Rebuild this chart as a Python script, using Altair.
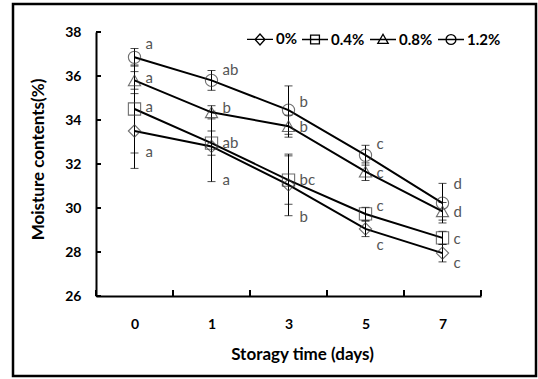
import json
import altair as alt
import pandas as pd

# ---- data ----
days = ["0", "1", "3", "5", "7"]
series = ["0%", "0.4%", "0.8%", "1.2%"]

m_0 = [33.5, 32.8, 31.05, 29.05, 27.95]
m_04 = [34.5, 32.95, 31.27, 29.73, 28.64]
m_08 = [35.8, 34.35, 33.72, 31.65, 29.85]
m_12 = [36.85, 35.8, 34.45, 32.4, 30.22]

e_0 = [1.7, 1.6, 1.4, 0.35, 0.4]
e_04 = [2.0, 0.55, 1.1, 0.3, 0.3]
e_08 = [0.4, 0.3, 0.5, 0.4, 0.4]
e_12 = [0.4, 0.45, 1.1, 0.45, 0.9]

l_0 = ["a", "a", "b", "c", "c"]
l_04 = ["a", "ab", "bc", "c", "c"]
l_08 = ["a", "b", "b", "c", "d"]
l_12 = ["a", "ab", "b", "c", "d"]

ly_0 = [32.55, 31.27, 29.6, 28.3, 27.5]
ly_04 = [34.6, 32.95, 31.27, 30.1, 28.6]
ly_08 = [35.9, 34.55, 33.7, 31.6, 29.8]
ly_12 = [37.45, 36.27, 34.8, 32.9, 31.1]

y_ticks = [26, 28, 30, 32, 34, 36, 38]

means = [m_0, m_04, m_08, m_12]
errs = [e_0, e_04, e_08, e_12]
letters = [l_0, l_04, l_08, l_12]
label_ys = [ly_0, ly_04, ly_08, ly_12]

rows = []
for s, m, e, l, ly in zip(series, means, errs, letters, label_ys):
    for i, d in enumerate(days):
        rows.append({"series": s, "day": d, "pos": i + 0.5, "value": m[i],
                     "lo": m[i] - e[i], "hi": m[i] + e[i],
                     "letter": l[i], "label_y": ly[i]})
df = pd.DataFrame(rows)

W, H = 385, 264
FONT = "Lato"

label_list = json.dumps(days + [""])
x_scale = alt.Scale(domain=[0, len(days)], nice=False, zero=False)
y_scale = alt.Scale(domain=[26, 38], nice=False, zero=False)


def xchan(field):
    return alt.X(f"{field}:Q", scale=x_scale, title="Storagy  time (days)",
                 axis=alt.Axis(values=list(range(len(days) + 1)),
                               labelExpr=f"{label_list}[datum.value]",
                               labelOffset=W / len(days) / 2, labelFlush=False,
                               labelOverlap=False, labelPadding=21,
                               titlePadding=15, titleX=206))


def ychan(field):
    return alt.Y(f"{field}:Q", scale=y_scale, title="Moisture contents(%)",
                 axis=alt.Axis(values=y_ticks, labelPadding=15, titlePadding=17,
                               titleY=127))


base = alt.Chart(df)

lines = base.mark_line(color="black", strokeWidth=2).encode(
    x=xchan("pos"), y=ychan("value"), detail="series:N")

bars = base.mark_rule(color="black", strokeWidth=1).encode(
    x=xchan("pos"), y=ychan("lo"), y2="hi:Q")
cap_lo = base.mark_tick(orient="horizontal", size=8, thickness=1, color="black").encode(
    x=xchan("pos"), y=ychan("lo"))
cap_hi = base.mark_tick(orient="horizontal", size=8, thickness=1, color="black").encode(
    x=xchan("pos"), y=ychan("hi"))

points = base.mark_point(filled=False, strokeWidth=1.1, color="#333333", size=150).encode(
    x=xchan("pos"), y=ychan("value"),
    shape=alt.Shape("series:N", sort=series,
                    scale=alt.Scale(domain=series,
                                    range=["diamond", "square", "triangle-up", "circle"]),
                    legend=None))

legend_paths = [
    "M-1,0H1M0,-0.42L0.38,0L0,0.42L-0.38,0Z",
    "M-1,0H1M-0.34,-0.34H0.34V0.34H-0.34Z",
    "M-1,0H1M0,-0.4L0.4,0.3H-0.4Z",
    "M-1,0H1M0.38,0A0.38,0.38 0 1,1 -0.38,0A0.38,0.38 0 1,1 0.38,0Z",
]
legend_layer = base.mark_point(opacity=0).encode(
    x=xchan("pos"), y=ychan("value"),
    shape=alt.Shape("series:N", sort=series,
                    scale=alt.Scale(domain=series, range=legend_paths),
                    legend=alt.Legend(title=None, orient="none", direction="horizontal",
                                      legendX=150, legendY=-7, columns=4,
                                      symbolSize=676, symbolStrokeColor="black",
                                      symbolFillColor="transparent",
                                      symbolStrokeWidth=1.3, symbolOpacity=1,
                                      labelFont=FONT, labelFontWeight="bold",
                                      labelFontSize=15, labelColor="black",
                                      labelOffset=2, columnPadding=2, padding=0)))

texts = base.mark_text(align="left", baseline="middle", dx=11, font=FONT,
                       fontSize=15, color="#555555").encode(
    x=xchan("pos"), y=ychan("label_y"), text="letter:N")

xt = alt.Chart(pd.DataFrame({"pos": list(range(len(days) + 1))})).mark_rule(
    color="black", strokeWidth=2).encode(x=xchan("pos"), y=alt.value(H), y2=alt.value(H - 6))
yt = alt.Chart(pd.DataFrame({"value": y_ticks})).mark_rule(
    color="black", strokeWidth=2).encode(y=ychan("value"), x=alt.value(0), x2=alt.value(5))

frame = alt.Chart(alt.Data(values=[{"f": 1}])).mark_rect(
    filled=False, stroke="black", strokeWidth=2.5).encode(
    x=alt.value(-83), x2=alt.value(440), y=alt.value(-28), y2=alt.value(344))

chart = alt.layer(frame, lines, bars, cap_lo, cap_hi, points, texts, xt, yt,
                  legend_layer).resolve_scale(shape="independent").properties(
    width=W, height=H, autosize="none",
    padding={"left": 96, "top": 32, "right": 57, "bottom": 83},
    background="white",
).configure_view(stroke=None).configure_axis(
    domainColor="black", domainWidth=2, ticks=False, tickSize=0, grid=False,
    labelFont=FONT, labelFontWeight="bold", labelFontSize=14, labelColor="black",
    titleFont=FONT, titleFontWeight="bold", titleFontSize=17, titleColor="black",
)

chart.save("out.html", embed_options={"renderer": "svg", "actions": False})
